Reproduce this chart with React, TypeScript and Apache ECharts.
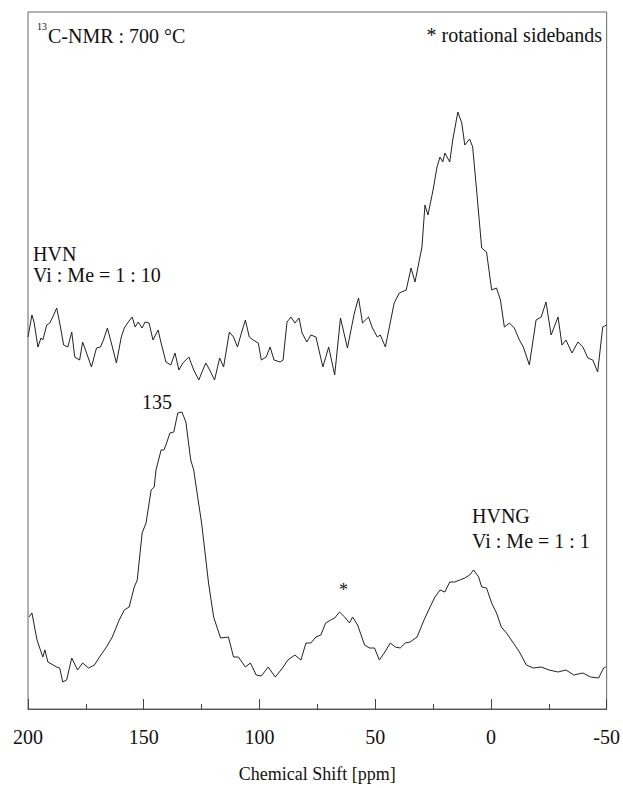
import React, { useEffect, useRef } from "react";
import * as echarts from "echarts";

// Chemical shift (ppm) and intensity (a.u.)
const hvnShift = [200, 198.3, 197.4, 195.7, 194.4, 193.6, 191.9, 190.6, 189.3, 187.6, 186.3, 184.6, 182.8, 181.1, 179.8, 177.7, 176.4, 174.7, 172.6, 170.4, 168.7, 167.4, 165.7, 164.0, 161.8, 159.7, 158.4, 156.7, 155.0, 153.7, 152.4, 150.7, 149.4, 147.7, 146.0, 143.8, 142.5, 140.4, 138.3, 136.5, 134.8, 133.1, 130.5, 128.4, 126.2, 125.0, 123.2, 121.5, 119.4, 117.2, 115.5, 113.0, 111.2, 109.5, 107.8, 106.1, 104.4, 102.7, 100.5, 99.2, 97.1, 95.4, 93.7, 91.1, 89.8, 88.1, 86.4, 84.7, 82.9, 81.6, 79.5, 77.8, 75.6, 72.6, 70.1, 67.5, 65.0, 62.0, 59.0, 57.2, 55.5, 52.9, 51.2, 49.1, 47.8, 45.6, 41.8, 39.6, 36.6, 34.5, 32.8, 29.8, 28.5, 27.2, 25.0, 23.3, 22.0, 20.8, 19.9, 17.8, 16.5, 14.3, 12.6, 11.3, 9.2, 7.9, 6.2, 4.0, 1.9, -0.3, -2.4, -4.1, -5.8, -8.0, -10.1, -12.3, -14.0, -16.6, -19.5, -21.7, -23.8, -26.0, -29.0, -30.7, -32.4, -35.0, -37.6, -39.7, -41.9, -44.0, -46.1, -48.3, -49.1, -50];
const hvnIntensity = [374, 396, 389, 364, 373, 371, 386, 388, 394, 403, 388, 366, 364, 379, 354, 351, 369, 358, 344, 363, 364, 371, 383, 368, 348, 374, 383, 389, 394, 384, 389, 383, 389, 388, 371, 381, 368, 349, 346, 358, 341, 348, 354, 341, 331, 338, 348, 341, 331, 353, 344, 379, 374, 364, 378, 391, 374, 371, 368, 351, 354, 364, 351, 349, 351, 389, 394, 388, 393, 378, 369, 376, 374, 344, 364, 336, 393, 363, 398, 413, 388, 394, 383, 374, 376, 364, 408, 418, 421, 443, 429, 464, 506, 496, 521, 544, 554, 549, 558, 549, 571, 599, 588, 566, 572, 564, 521, 463, 459, 421, 423, 411, 384, 388, 383, 371, 364, 346, 391, 394, 409, 376, 394, 366, 371, 358, 369, 364, 353, 351, 339, 384, 385, 386];

const hvngShift = [199.6, 198.3, 196.1, 193.6, 192.7, 191.4, 187.6, 186.3, 185.0, 183.3, 181.1, 178.6, 176.4, 173.8, 171.3, 169.1, 166.1, 163.6, 160.6, 158.4, 156.3, 154.1, 152.8, 150.7, 149.0, 146.8, 145.5, 144.7, 142.5, 141.3, 140.4, 138.7, 137.0, 135.3, 133.5, 131.8, 129.7, 128.4, 126.7, 125.0, 122.0, 119.8, 116.8, 113.4, 111.2, 109.1, 106.1, 103.9, 101.4, 99.2, 96.2, 93.2, 90.7, 87.7, 84.7, 82.1, 79.9, 77.8, 75.6, 73.5, 71.4, 69.2, 67.5, 65.4, 63.2, 61.1, 59.8, 57.6, 54.6, 52.5, 50.3, 48.2, 46.1, 43.5, 41.3, 39.2, 37.0, 34.9, 31.9, 28.9, 26.3, 24.2, 22.0, 19.9, 17.8, 15.6, 13.5, 11.3, 9.2, 7.5, 5.3, 4.0, 1.9, -0.3, -2.4, -4.5, -6.7, -9.7, -12.3, -15.3, -18.3, -21.7, -25.1, -29.0, -32.4, -35.8, -39.7, -43.1, -46.5, -48.7, -49.6];
const hvngIntensity = [94, 98, 71, 54, 61, 49, 44, 43, 29, 31, 53, 41, 48, 43, 46, 54, 64, 74, 91, 101, 104, 124, 131, 178, 188, 221, 224, 241, 261, 261, 266, 278, 279, 298, 299, 289, 251, 241, 214, 188, 128, 94, 73, 74, 54, 54, 44, 48, 36, 35, 44, 34, 41, 51, 56, 51, 68, 68, 74, 76, 88, 91, 93, 99, 94, 88, 94, 86, 66, 63, 63, 51, 58, 68, 64, 63, 68, 69, 74, 91, 104, 114, 121, 119, 129, 129, 131, 133, 136, 141, 134, 124, 123, 108, 98, 84, 78, 68, 59, 46, 43, 44, 41, 39, 41, 36, 38, 34, 33, 43, 44];

const xTicks = [200, 150, 100, 50, 0, -50];

const FONT = "Times New Roman, Liberation Serif, DejaVu Serif, serif";

export default function App() {
  const ref = useRef<HTMLDivElement>(null);
  useEffect(() => {
    if (!ref.current) return;
    const chart = echarts.init(ref.current, undefined, { renderer: "svg" });
    const toPairs = (xs: number[], ys: number[]) => xs.map((x, i) => [x, ys[i]]);
    const textStyle = { fill: "#111", fontFamily: FONT, fontSize: 20 };
    chart.setOption({
      animation: false,
      backgroundColor: "#fff",
      textStyle: { fontFamily: FONT },
      grid: { left: 28, right: 12, top: 12, bottom: 79, show: true, borderColor: "#666", borderWidth: 1 },
      xAxis: {
        type: "value",
        inverse: true,
        min: -50,
        max: 200,
        interval: 50,
        name: "Chemical Shift [ppm]",
        nameLocation: "middle",
        nameGap: 56,
        nameTextStyle: { fontFamily: FONT, fontSize: 18, color: "#111" },
        axisLine: { show: true, lineStyle: { color: "#555", width: 1 } },
        axisTick: { show: true, inside: true, length: 10, lineStyle: { color: "#444" } },
        minorTick: { show: true, splitNumber: 2, length: 5, lineStyle: { color: "#444" } },
        splitLine: { show: false },
        axisLabel: {
          fontFamily: FONT,
          fontSize: 20,
          color: "#111",
          margin: 18,
          formatter: (v: number) => (xTicks.includes(v) ? String(v) : ""),
        },
      },
      yAxis: { type: "value", min: 2, max: 699, show: false, splitLine: { show: false } },
      series: [
        {
          name: "HVN",
          type: "line",
          data: toPairs(hvnShift, hvnIntensity),
          showSymbol: false,
          lineStyle: { color: "#222", width: 1 },
        },
        {
          name: "HVNG",
          type: "line",
          data: toPairs(hvngShift, hvngIntensity),
          showSymbol: false,
          lineStyle: { color: "#222", width: 1 },
        },
      ],
      graphic: [
        { type: "text", left: 37, top: 21, style: { ...textStyle, text: "13", fontSize: 10 } },
        { type: "text", left: 48, top: 26, style: { ...textStyle, text: "C-NMR : 700 °C" } },
        { type: "text", right: 21, top: 25, style: { ...textStyle, text: "* rotational sidebands" } },
        { type: "text", left: 33, top: 244, style: { ...textStyle, text: "HVN" } },
        { type: "text", left: 33, top: 265, style: { ...textStyle, text: "Vi : Me = 1 : 10" } },
        { type: "text", left: 142, top: 392, style: { ...textStyle, text: "135" } },
        { type: "text", left: 472, top: 506, style: { ...textStyle, text: "HVNG" } },
        { type: "text", left: 472, top: 531, style: { ...textStyle, text: "Vi : Me = 1 : 1" } },
        { type: "text", left: 339, top: 581, style: { ...textStyle, text: "*", fontSize: 18 } },
      ],
    });
    return () => chart.dispose();
  }, []);
  return <div ref={ref} style={{ width: 623, height: 788, position: "absolute", left: 0, top: 0 }} />;
}
